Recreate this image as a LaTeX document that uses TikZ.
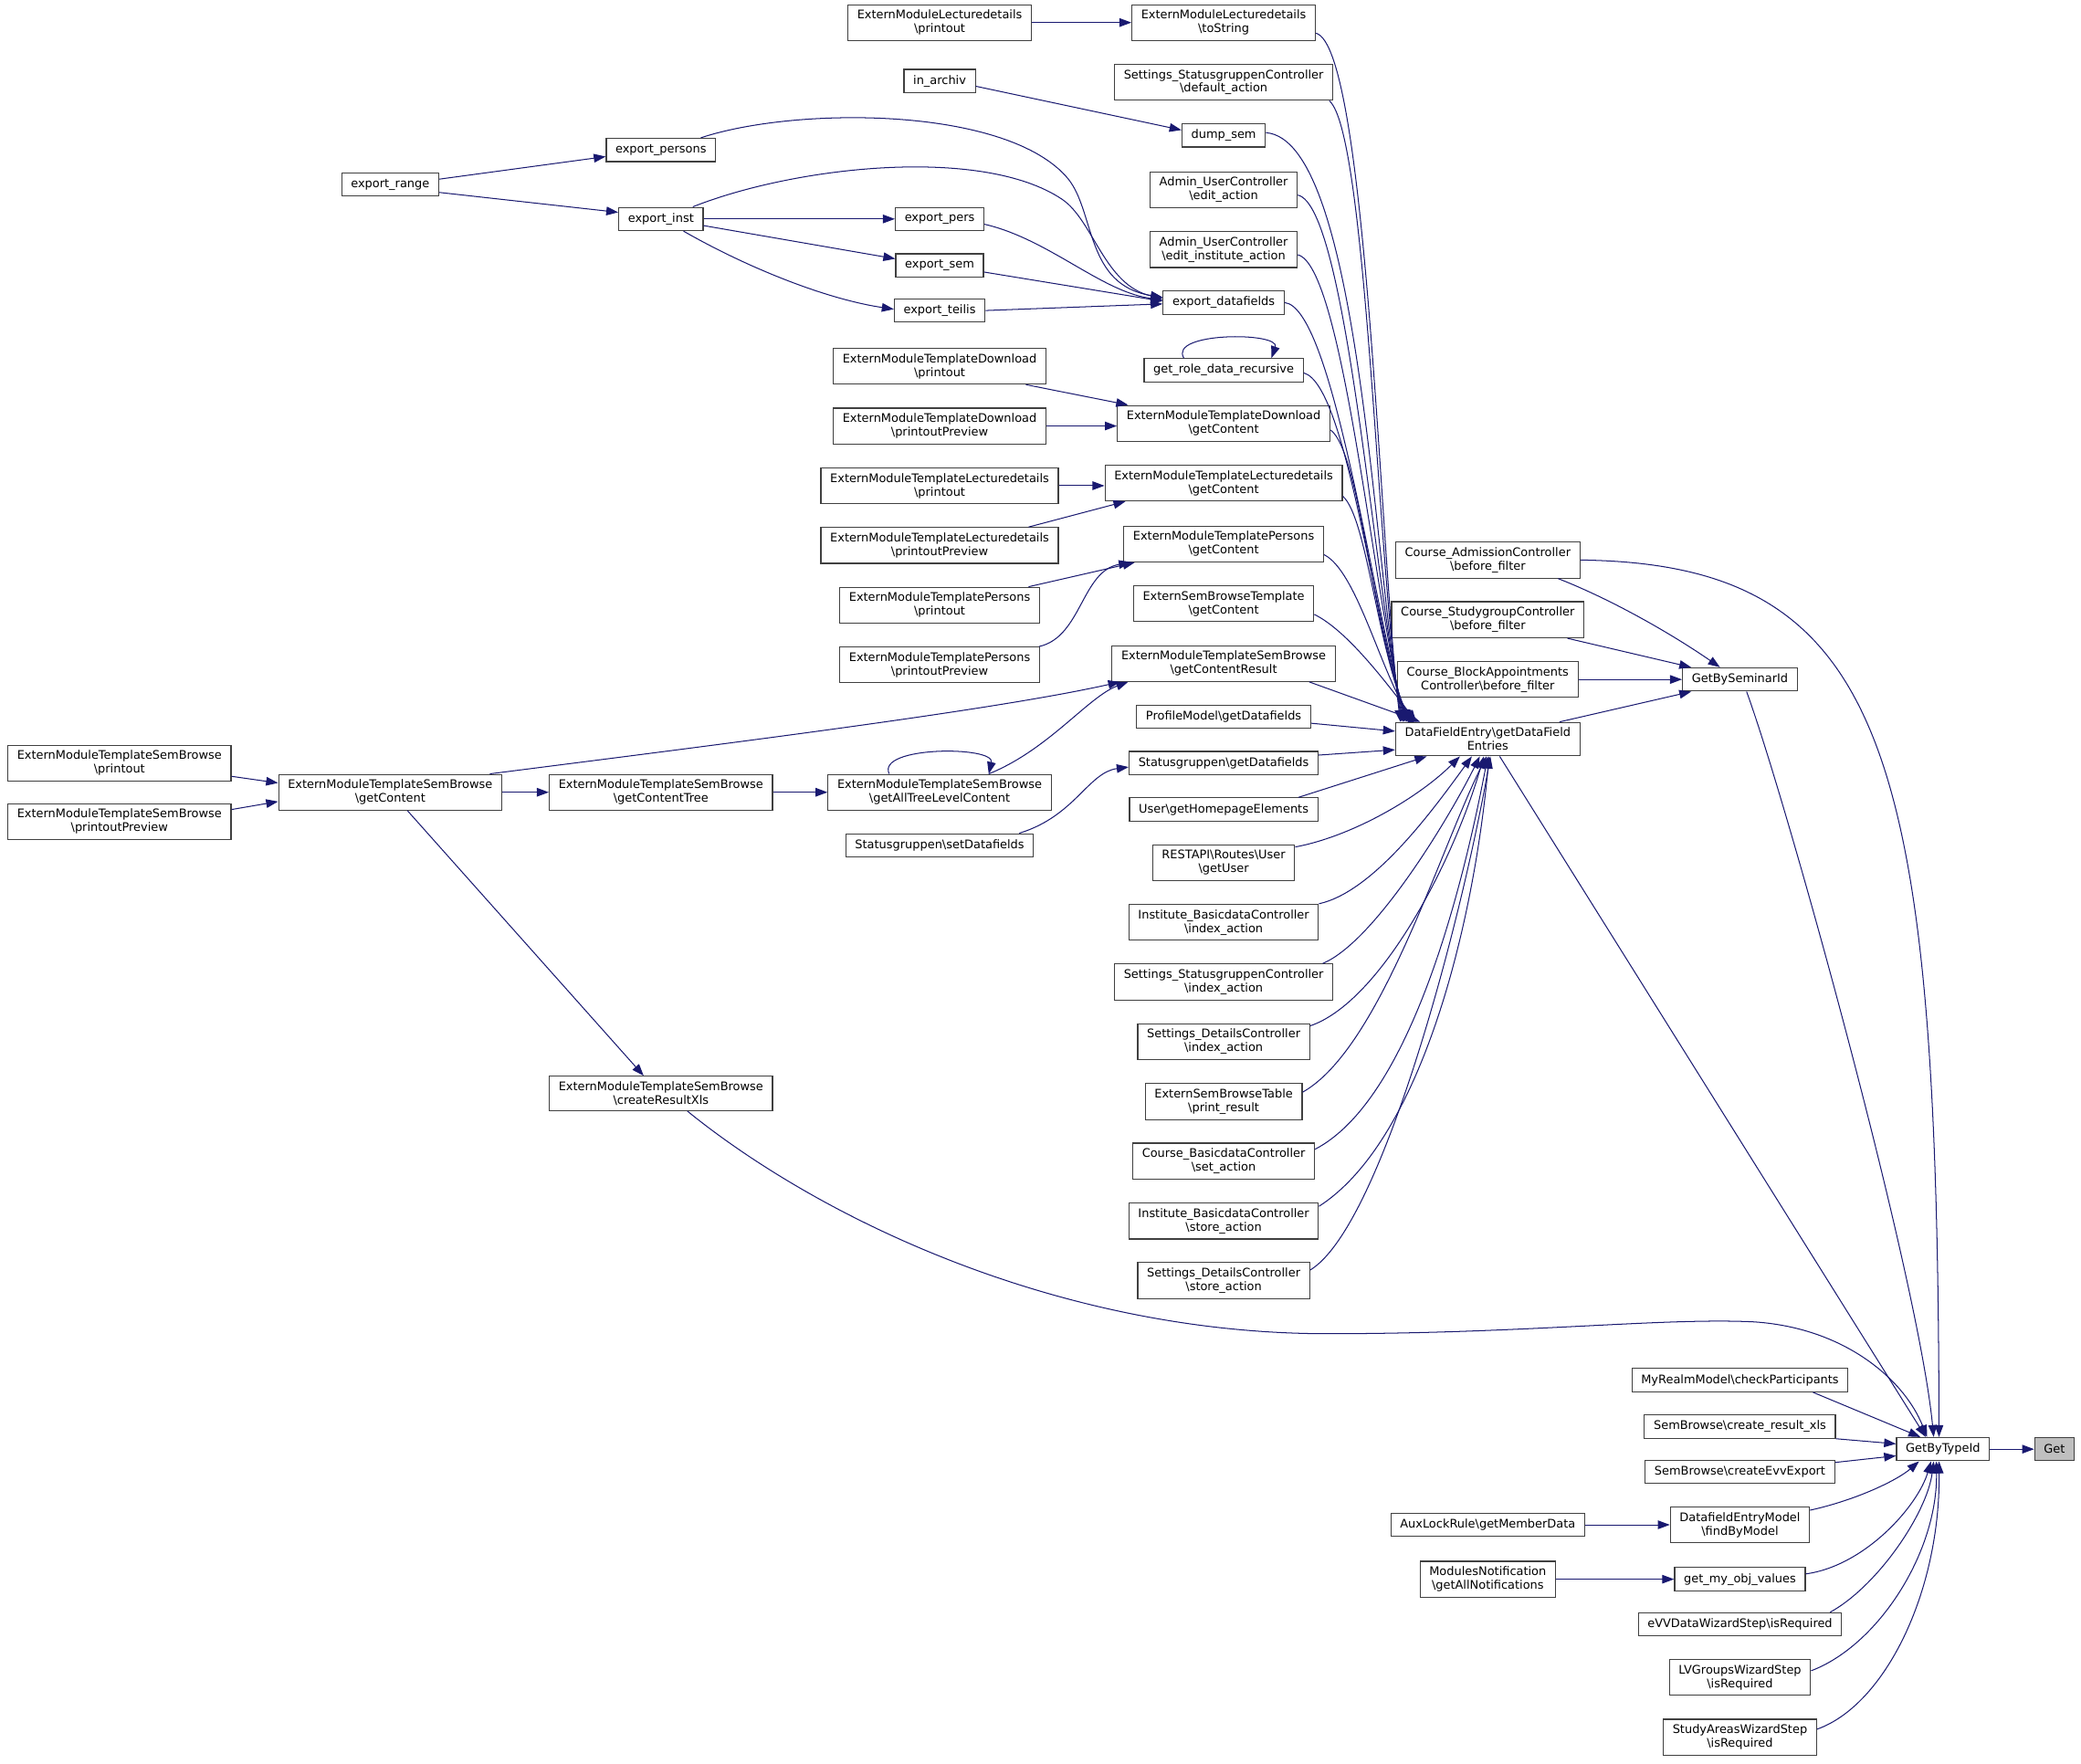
\documentclass[tikz,border=0pt]{standalone}
\usepackage{fontspec}
\setmainfont{DejaVu Sans}
\usepackage{xcolor}
\definecolor{CEdge}{HTML}{191970}
\definecolor{CBorder}{HTML}{404040}
\definecolor{CRoot}{HTML}{BFBFBF}
\usepackage{tikz}
\usetikzlibrary{arrows.meta}
\newcommand{\fnfont}{\fontsize{8.9}{10.3}\selectfont}
\newcommand{\bs}{\textbackslash}
\tikzstyle{fnNode}=[rectangle, draw=CBorder, line width=0.8pt, fill=white,
  align=center, inner xsep=7pt, inner ysep=4pt, minimum height=17.5pt, font=\fnfont]
\tikzstyle{rootNode}=[fnNode, fill=CRoot]
\tikzstyle{arr}=[-{Triangle[length=9pt,width=6.5pt]}, line width=0.7pt, draw=CEdge, fill=none]

\begin{document}
\begin{tikzpicture}[x=1pt, y=-1pt, >=Triangle]
\fill[white] (0,0) rectangle (1568,1329);
% right part
\node[rootNode] (get) at (1548,1092) {Get};
\node[fnNode] (gbt) at (1464,1092) {GetByTypeId};
\node[fnNode] (cp) at (1311,1040) {MyRealmModel\bs checkParticipants};
\node[fnNode] (cxls) at (1311,1075) {SemBrowse\bs create\_result\_xls};
\node[fnNode] (cevv) at (1311,1109) {SemBrowse\bs createEvvExport};
\node[fnNode] (fbm) at (1311,1149) {DatafieldEntryModel\\\bs findByModel};
\node[fnNode] (gmov) at (1311,1190) {get\_my\_obj\_values};
\node[fnNode] (evv) at (1311,1224) {eVVDataWizardStep\bs isRequired};
\node[fnNode] (lvg) at (1311,1264) {LVGroupsWizardStep\\\bs isRequired};
\node[fnNode] (saw) at (1311,1309) {StudyAreasWizardStep\\\bs isRequired};
\node[fnNode] (alr) at (1121,1149) {AuxLockRule\bs getMemberData};
\node[fnNode] (mn) at (1121,1190) {ModulesNotification\\\bs getAllNotifications};
\node[fnNode] (gbs) at (1311,512) {GetBySeminarId};
\node[fnNode] (cac) at (1121,422) {Course\_AdmissionController\\\bs before\_filter};
\node[fnNode] (csg) at (1121,467) {Course\_StudygroupController\\\bs before\_filter};
\node[fnNode] (cba) at (1121,512) {Course\_BlockAppointments\\Controller\bs before\_filter};
\node[fnNode] (dfe) at (1121,557) {DataFieldEntry\bs getDataField\\Entries};
% middle column
\node[fnNode] (ts) at (922,17) {ExternModuleLecturedetails\\\bs toString};
\node[fnNode] (sda) at (922,62) {Settings\_StatusgruppenController\\\bs default\_action};
\node[fnNode] (ds) at (922,102) {dump\_sem};
\node[fnNode] (ea) at (922,143) {Admin\_UserController\\\bs edit\_action};
\node[fnNode] (eia) at (922,188) {Admin\_UserController\\\bs edit\_institute\_action};
\node[fnNode] (edf) at (922,228) {export\_datafields};
\node[fnNode] (grd) at (922,279) {get\_role\_data\_recursive};
\node[fnNode] (dgc) at (922,319) {ExternModuleTemplateDownload\\\bs getContent};
\node[fnNode] (lgc) at (922,364) {ExternModuleTemplateLecturedetails\\\bs getContent};
\node[fnNode] (pgc) at (922,410) {ExternModuleTemplatePersons\\\bs getContent};
\node[fnNode] (sbt) at (922,455) {ExternSemBrowseTemplate\\\bs getContent};
\node[fnNode] (gcr) at (922,500) {ExternModuleTemplateSemBrowse\\\bs getContentResult};
\node[fnNode] (pm) at (922,540) {ProfileModel\bs getDatafields};
\node[fnNode] (sgd) at (922,575) {Statusgruppen\bs getDatafields};
\node[fnNode] (uhe) at (922,610) {User\bs getHomepageElements};
\node[fnNode] (gu) at (922,650) {RESTAPI\bs Routes\bs User\\\bs getUser};
\node[fnNode] (iia) at (922,695) {Institute\_BasicdataController\\\bs index\_action};
\node[fnNode] (sia) at (922,740) {Settings\_StatusgruppenController\\\bs index\_action};
\node[fnNode] (sdi) at (922,785) {Settings\_DetailsController\\\bs index\_action};
\node[fnNode] (pr) at (922,830) {ExternSemBrowseTable\\\bs print\_result};
\node[fnNode] (bsa) at (922,875) {Course\_BasicdataController\\\bs set\_action};
\node[fnNode] (isa) at (922,920) {Institute\_BasicdataController\\\bs store\_action};
\node[fnNode] (sds) at (922,965) {Settings\_DetailsController\\\bs store\_action};
% left columns
\node[fnNode] (lp) at (708,17) {ExternModuleLecturedetails\\\bs printout};
\node[fnNode] (ia) at (708,61) {in\_archiv};
\node[fnNode] (epe) at (708,165) {export\_pers};
\node[fnNode] (es) at (708,200) {export\_sem};
\node[fnNode] (et) at (708,234) {export\_teilis};
\node[fnNode] (dp) at (708,276) {ExternModuleTemplateDownload\\\bs printout};
\node[fnNode] (dpp) at (708,321) {ExternModuleTemplateDownload\\\bs printoutPreview};
\node[fnNode] (ldp) at (708,366) {ExternModuleTemplateLecturedetails\\\bs printout};
\node[fnNode] (ldpp) at (708,411) {ExternModuleTemplateLecturedetails\\\bs printoutPreview};
\node[fnNode] (pp) at (708,456) {ExternModuleTemplatePersons\\\bs printout};
\node[fnNode] (ppp) at (708,501) {ExternModuleTemplatePersons\\\bs printoutPreview};
\node[fnNode] (gal) at (708,597) {ExternModuleTemplateSemBrowse\\\bs getAllTreeLevelContent};
\node[fnNode] (ssg) at (708,637) {Statusgruppen\bs setDatafields};
\node[fnNode] (ep) at (498,113) {export\_persons};
\node[fnNode] (ei) at (498,165) {export\_inst};
\node[fnNode] (gct) at (498,597) {ExternModuleTemplateSemBrowse\\\bs getContentTree};
\node[fnNode] (crx) at (498,824) {ExternModuleTemplateSemBrowse\\\bs createResultXls};
\node[fnNode] (er) at (294,139) {export\_range};
\node[fnNode] (sbg) at (294,597) {ExternModuleTemplateSemBrowse\\\bs getContent};
\node[fnNode] (sbp) at (90,575) {ExternModuleTemplateSemBrowse\\\bs printout};
\node[fnNode] (sbpp) at (90,619) {ExternModuleTemplateSemBrowse\\\bs printoutPreview};

% calls into GetByTypeId
\draw[arr] (gbt.east) -- (get.west);
\draw[arr] ([xshift=55pt]cp.south) -- ([xshift=-17pt]gbt.north);
\draw[arr] (cxls.south east) -- ([yshift=4pt]gbt.west);
\draw[arr] ([yshift=7pt]cevv.east) -- ([yshift=-5pt]gbt.west);
\draw[arr] ([yshift=11pt]fbm.east) .. controls (1400,1130) and (1430,1115) .. ([xshift=-18pt]gbt.south);
\draw[arr] ([yshift=4pt]gmov.east) .. controls (1405,1180) and (1445,1135) .. ([xshift=-9pt]gbt.south);
\draw[arr] ([xshift=-9pt]evv.north east) .. controls (1415,1195) and (1452,1140) .. ([xshift=-7pt]gbt.south);
\draw[arr] ([yshift=5pt]lvg.east) .. controls (1415,1240) and (1460,1170) .. ([xshift=-5pt]gbt.south);
\draw[arr] ([yshift=6pt]saw.east) .. controls (1420,1285) and (1462,1200) .. ([xshift=-3pt]gbt.south);
\draw[arr] (alr.east) -- (fbm.west);
\draw[arr] (mn.east) -- (gmov.west);
\draw[arr] ([xshift=5pt]gbs.south) .. controls (1345,600) and (1445,960) .. ([xshift=-7pt]gbt.north);
\draw[arr] (cac.east) .. controls (1422,425) and (1460,564) .. ([xshift=-3pt]gbt.north);
\draw[arr] ([xshift=9pt]dfe.south) -- ([xshift=-13pt]gbt.north);
\draw[arr] ([xshift=20pt]crx.south) .. controls (620,920) and (800,1005) .. (1000,1005)
  .. controls (1150,1005) and (1250,993) .. (1320,996)
  .. controls (1390,1000) and (1435,1040) .. ([xshift=-12pt]gbt.north);
% calls into GetBySeminarId
\draw[arr] ([xshift=53pt]cac.south) .. controls (1215,452) and (1260,478) .. ([xshift=-15pt]gbs.north);
\draw[arr] ([xshift=60pt]csg.south) -- ([xshift=7pt]gbs.north west);
\draw[arr] (cba.east) -- (gbs.west);
\draw[arr] ([xshift=54pt]dfe.north) -- ([xshift=7pt]gbs.south west);
% calls into getDataFieldEntries
\draw[arr] ([yshift=-8pt]ts.east) .. controls (1030,35) and (1040,420) .. ([xshift=4pt]dfe.north west);
\draw[arr] ([xshift=-3pt]sda.south east) .. controls (1030,100) and (1038,430) .. ([xshift=5pt]dfe.north west);
\draw[arr] ([yshift=2pt]ds.east) .. controls (1025,105) and (1035,430) .. ([xshift=6pt]dfe.north west);
\draw[arr] ([yshift=-4pt]ea.east) .. controls (1015,155) and (1035,440) .. ([xshift=7pt]dfe.north west);
\draw[arr] ([yshift=-4pt]eia.east) .. controls (1012,200) and (1035,450) .. ([xshift=8pt]dfe.north west);
\draw[arr] (edf.east) .. controls (1005,232) and (1035,460) .. ([xshift=9pt]dfe.north west);
\draw[arr] ([yshift=-2pt]grd.east) .. controls (1015,290) and (1035,470) .. ([xshift=10pt]dfe.north west);
\draw[arr] ([yshift=-5pt]dgc.east) .. controls (1025,340) and (1035,480) .. ([xshift=11pt]dfe.north west);
\draw[arr] ([yshift=-10pt]lgc.east) .. controls (1030,390) and (1038,490) .. ([xshift=12pt]dfe.north west);
\draw[arr] ([yshift=-8pt]pgc.east) .. controls (1022,430) and (1040,505) .. ([xshift=14pt]dfe.north west);
\draw[arr] ([yshift=-8pt]sbt.east) .. controls (1015,475) and (1045,515) .. ([xshift=16pt]dfe.north west);
\draw[arr] ([xshift=-20pt]gcr.south east) -- ([xshift=19pt]dfe.north west);
\draw[arr] ([yshift=-5pt]pm.east) -- ([yshift=6pt]dfe.west);
\draw[arr] ([yshift=6pt]sgd.east) -- ([yshift=-8pt]dfe.west);
\draw[arr] ([xshift=-15pt]uhe.north east) -- ([xshift=-46pt]dfe.south);
\draw[arr] ([yshift=-2pt]gu.north east) .. controls (1020,630) and (1070,600) .. ([xshift=-21pt]dfe.south);
\draw[arr] (iia.north east) .. controls (1035,672) and (1080,610) .. ([xshift=-12pt]dfe.south);
\draw[arr] ([xshift=-8pt]sia.north east) .. controls (1035,710) and (1090,620) .. ([xshift=-6pt]dfe.south);
\draw[arr] ([yshift=-2pt]sdi.north east) .. controls (1040,755) and (1095,650) .. ([xshift=-3pt]dfe.south);
\draw[arr] ([yshift=7pt]pr.east) .. controls (1040,790) and (1085,640) .. ([xshift=-1pt]dfe.south);
\draw[arr] ([yshift=-5pt]bsa.north east) .. controls (1060,830) and (1100,680) .. (dfe.south);
\draw[arr] ([yshift=-3pt]isa.north east) .. controls (1070,860) and (1110,700) .. ([xshift=1pt]dfe.south);
\draw[arr] ([yshift=-6pt]sds.north east) .. controls (1040,925) and (1100,700) .. ([xshift=2pt]dfe.south);
% export chain
\draw[arr] (lp.east) -- (ts.west);
\draw[arr] ([yshift=-4pt]ia.east) -- ([yshift=4pt]ds.west);
\draw[arr] ([yshift=4pt]er.east) -- ([yshift=-5pt]ep.west);
\draw[arr] ([yshift=-6pt]er.east) -- ([yshift=5pt]ei.west);
\draw[arr] ([xshift=30pt]ep.north) .. controls (600,80) and (760,80) .. (805,135)
  .. controls (825,160) and (818,215) .. ([yshift=4pt]edf.west);
\draw[arr] ([xshift=24pt]ei.north) .. controls (600,125) and (740,110) .. (800,150)
  .. controls (824,166) and (832,215) .. ([yshift=3pt]edf.west);
\draw[arr] (ei.east) -- (epe.west);
\draw[arr] ([yshift=-5pt]ei.east) -- ([yshift=5pt]es.west);
\draw[arr] ([xshift=17pt]ei.south) .. controls (560,200) and (620,225) .. ([yshift=1pt]et.west);
\draw[arr] ([yshift=-4pt]epe.east) .. controls (790,180) and (830,220) .. ([yshift=2pt]edf.west);
\draw[arr] ([yshift=-5pt]es.east) -- ([yshift=1pt]edf.west);
\draw[arr] (et.east) -- ([yshift=-1pt]edf.west);
\draw[arr] ([xshift=-30pt]grd.north) .. controls (880,250) and (965,250) .. ([xshift=36pt]grd.north);
% template printouts
\draw[arr] ([xshift=65pt]dp.south) -- ([xshift=-72pt]dgc.north);
\draw[arr] (dpp.east) -- ([yshift=-2pt]dgc.west);
\draw[arr] (ldp.east) -- ([yshift=-2pt]lgc.west);
\draw[arr] ([xshift=67pt]ldpp.north) -- ([xshift=-74pt]lgc.south);
\draw[arr] ([xshift=67pt]pp.north) -- ([xshift=-67pt]pgc.south);
\draw[arr] ([xshift=75pt]ppp.north) .. controls (815,480) and (815,430) .. ([xshift=-70pt]pgc.south);
% sem browse
\draw[arr] ([xshift=75pt]sbg.north) .. controls (550,560) and (750,535) .. ([xshift=-78pt]gcr.south);
\draw[arr] (sbg.east) -- (gct.west);
\draw[arr] (gct.east) -- (gal.west);
\draw[arr] ([xshift=37pt]gal.north) .. controls (790,565) and (820,525) .. ([xshift=-72pt]gcr.south);
\draw[arr] ([xshift=-38pt]gal.north) .. controls (660,562) and (750,562) .. ([xshift=37pt]gal.north);
\draw[arr] ([yshift=-10pt]sbp.east) -- ([yshift=7pt]sbg.west);
\draw[arr] ([yshift=9pt]sbpp.east) -- ([yshift=-7pt]sbg.west);
\draw[arr] ([xshift=13pt]sbg.south) -- ([xshift=-13pt]crx.north);
\draw[arr] ([xshift=60pt]ssg.north) .. controls (810,615) and (820,582) .. ([yshift=-3pt]sgd.west);
\end{tikzpicture}
\end{document}
